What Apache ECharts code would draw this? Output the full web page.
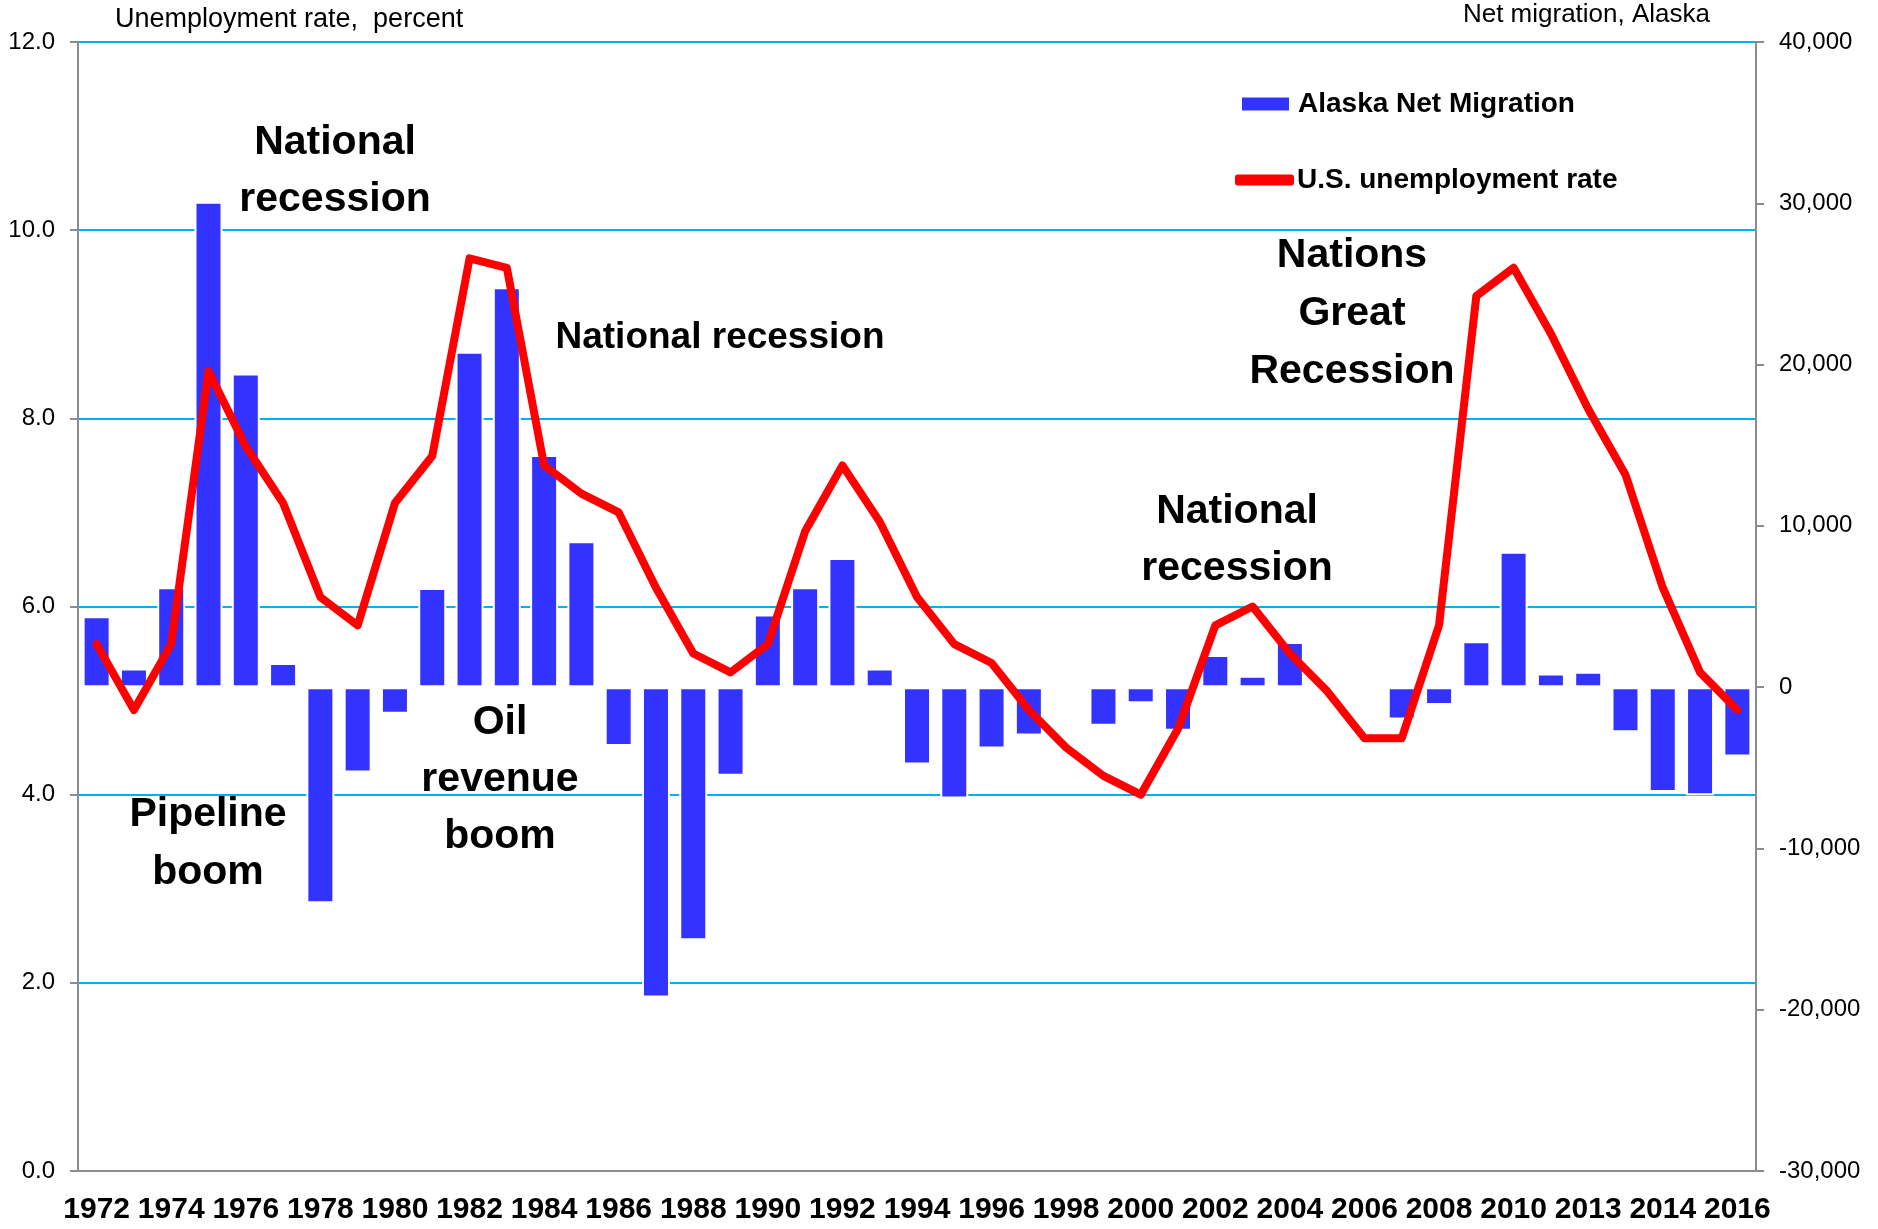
<!DOCTYPE html>
<html>
<head>
<meta charset="utf-8">
<title>Alaska net migration and U.S. unemployment</title>
<script src="https://cdn.jsdelivr.net/npm/echarts@6/dist/echarts.min.js"></script>
<style>
html, body { margin: 0; padding: 0; background: #fff; }
#chart { width: 1878px; height: 1229px; }
</style>
</head>
<body>
<div id="chart"></div>
<script>
// years on the category axis, and the labels as printed on the original (2012 reads "2013")
var years = ['1972','1973','1974','1975','1976','1977','1978','1979','1980','1981',
    '1982','1983','1984','1985','1986','1987','1988','1989','1990','1991',
    '1992','1993','1994','1995','1996','1997','1998','1999','2000','2001',
    '2002','2003','2004','2005','2006','2007','2008','2009','2010','2011',
    '2012','2013','2014','2015','2016'];
var yearLabels = ['1972','1973','1974','1975','1976','1977','1978','1979','1980','1981',
    '1982','1983','1984','1985','1986','1987','1988','1989','1990','1991',
    '1992','1993','1994','1995','1996','1997','1998','1999','2000','2001',
    '2002','2003','2004','2005','2006','2007','2008','2009','2010','2011',
    '2013','2013','2014','2015','2016'];

// Alaska net migration, persons (right axis)
var netMigration = [4400, 1150, 6200, 30100, 19450, 1500, -13400, -5300, -1650, 6150,
    20800, 24800, 14400, 9050, -3650, -19250, -15700, -5500, 4500, 6200,
    8000, 1150, -4800, -6900, -3800, -3000, 50, -2400, -1000, -2700,
    2000, 700, 2800, 150, 0, -2000, -1100, 2850, 8400, 850,
    950, -2800, -6500, -6700, -4300];

// U.S. unemployment rate, percent (left axis)
var unemployment = [5.6, 4.9, 5.6, 8.5, 7.7, 7.1, 6.1, 5.8, 7.1, 7.6,
    9.7, 9.6, 7.5, 7.2, 7.0, 6.2, 5.5, 5.3, 5.6, 6.8,
    7.5, 6.9, 6.1, 5.6, 5.4, 4.9, 4.5, 4.2, 4.0, 4.7,
    5.8, 6.0, 5.5, 5.1, 4.6, 4.6, 5.8, 9.3, 9.6, 8.9,
    8.1, 7.4, 6.2, 5.3, 4.9];

var notes = ['National\nrecession', 'National recession', 'Pipeline\nboom',
    'Oil\nrevenue\nboom', 'National\nrecession', 'Nations\nGreat\nRecession'];

var chart = echarts.init(document.getElementById('chart'));

var axisGray = '#8c8c8c';
var sans = '"Liberation Sans", Arial, sans-serif';
var narrow = '"Liberation Sans Narrow", "Liberation Sans", Arial, sans-serif';

function note(text, x, y, size, lh) {
    return {
        type: 'text',
        x: x,
        y: y,
        z: 100,
        style: {
            text: text,
            align: 'center',
            verticalAlign: 'middle',
            fontSize: size,
            fontWeight: 'bold',
            fontFamily: sans,
            lineHeight: lh,
            fill: '#000'
        }
    };
}

chart.setOption({
    animation: false,
    backgroundColor: '#fff',
    grid: { left: 78, right: 122, top: 42, bottom: 58 },
    legend: [{
        data: ['Alaska Net Migration'],
        left: 1240, top: 90,
        padding: 0,
        itemWidth: 49, itemHeight: 15,
        icon: 'rect',
        textStyle: { fontSize: 28, fontWeight: 'bold', fontFamily: sans, color: '#000', padding: [0, 0, 0, 3] }
    }, {
        data: [{ name: 'U.S. unemployment rate', icon: 'roundRect' }],
        left: 1235, top: 166,
        padding: 0,
        itemWidth: 59, itemHeight: 11,
        textStyle: { fontSize: 28, fontWeight: 'bold', fontFamily: sans, color: '#000', padding: [0, 0, 0, -2] }
    }],
    xAxis: {
        type: 'category',
        data: years,
        z: 5,
        axisLine: { onZero: false, lineStyle: { color: axisGray, width: 2 } },
        axisTick: { interval: 0, length: 10, lineStyle: { color: axisGray, width: 2 } },
        axisLabel: {
            interval: 1,
            margin: 24,
            fontSize: 30,
            fontWeight: 'bold',
            fontFamily: narrow,
            color: '#000',
            formatter: function (v, i) { return yearLabels[i]; }
        }
    },
    yAxis: [{
        type: 'value',
        min: 0, max: 12, interval: 2,
        name: 'Unemployment rate,  percent',
        nameLocation: 'end',
        nameGap: 22,
        nameTextStyle: { align: 'left', verticalAlign: 'middle', fontSize: 27, fontFamily: sans, color: '#000', padding: [0, 0, 0, 37] },
        axisLine: { show: true, lineStyle: { color: axisGray, width: 2 } },
        axisTick: { show: true, length: 8, lineStyle: { color: axisGray, width: 2 } },
        axisLabel: {
            margin: 23, fontSize: 24, fontFamily: sans, color: '#000',
            formatter: function (v) { return v.toFixed(1); }
        },
        splitLine: { show: true, lineStyle: { color: '#00b0f0', width: 2 } }
    }, {
        type: 'value',
        position: 'right',
        min: -30000, max: 40000, interval: 10000,
        name: 'Net migration, Alaska',
        nameLocation: 'end',
        nameGap: 27,
        nameTextStyle: { align: 'right', verticalAlign: 'middle', fontSize: 26, fontFamily: sans, color: '#000', padding: [0, 46, 0, 0] },
        axisLine: { show: true, lineStyle: { color: axisGray, width: 2 } },
        axisTick: { show: true, length: 8, lineStyle: { color: axisGray, width: 2 } },
        axisLabel: {
            margin: 23, fontSize: 24, fontFamily: sans, color: '#000',
            formatter: function (v) { return v.toLocaleString('en-US'); }
        },
        splitLine: { show: false }
    }],
    series: [{
        name: 'Alaska Net Migration',
        type: 'bar',
        yAxisIndex: 1,
        barWidth: 28,
        data: netMigration,
        itemStyle: { color: '#3333ff', borderColor: '#fff', borderWidth: 2 }
    }, {
        name: 'U.S. unemployment rate',
        type: 'line',
        yAxisIndex: 0,
        data: unemployment,
        symbol: 'none',
        itemStyle: { color: '#ff0000' },
        lineStyle: { color: '#ff0000', width: 8, cap: 'round', join: 'round' }
    }],
    graphic: [
        note(notes[0], 335, 171, 41, 57),
        note(notes[1], 720, 338, 37, 50),
        note(notes[2], 208, 844, 41, 58),
        note(notes[3], 500, 780, 41, 57),
        note(notes[4], 1237, 540, 41, 57),
        note(notes[5], 1352, 314, 41, 58)
    ]
});
</script>
</body>
</html>
